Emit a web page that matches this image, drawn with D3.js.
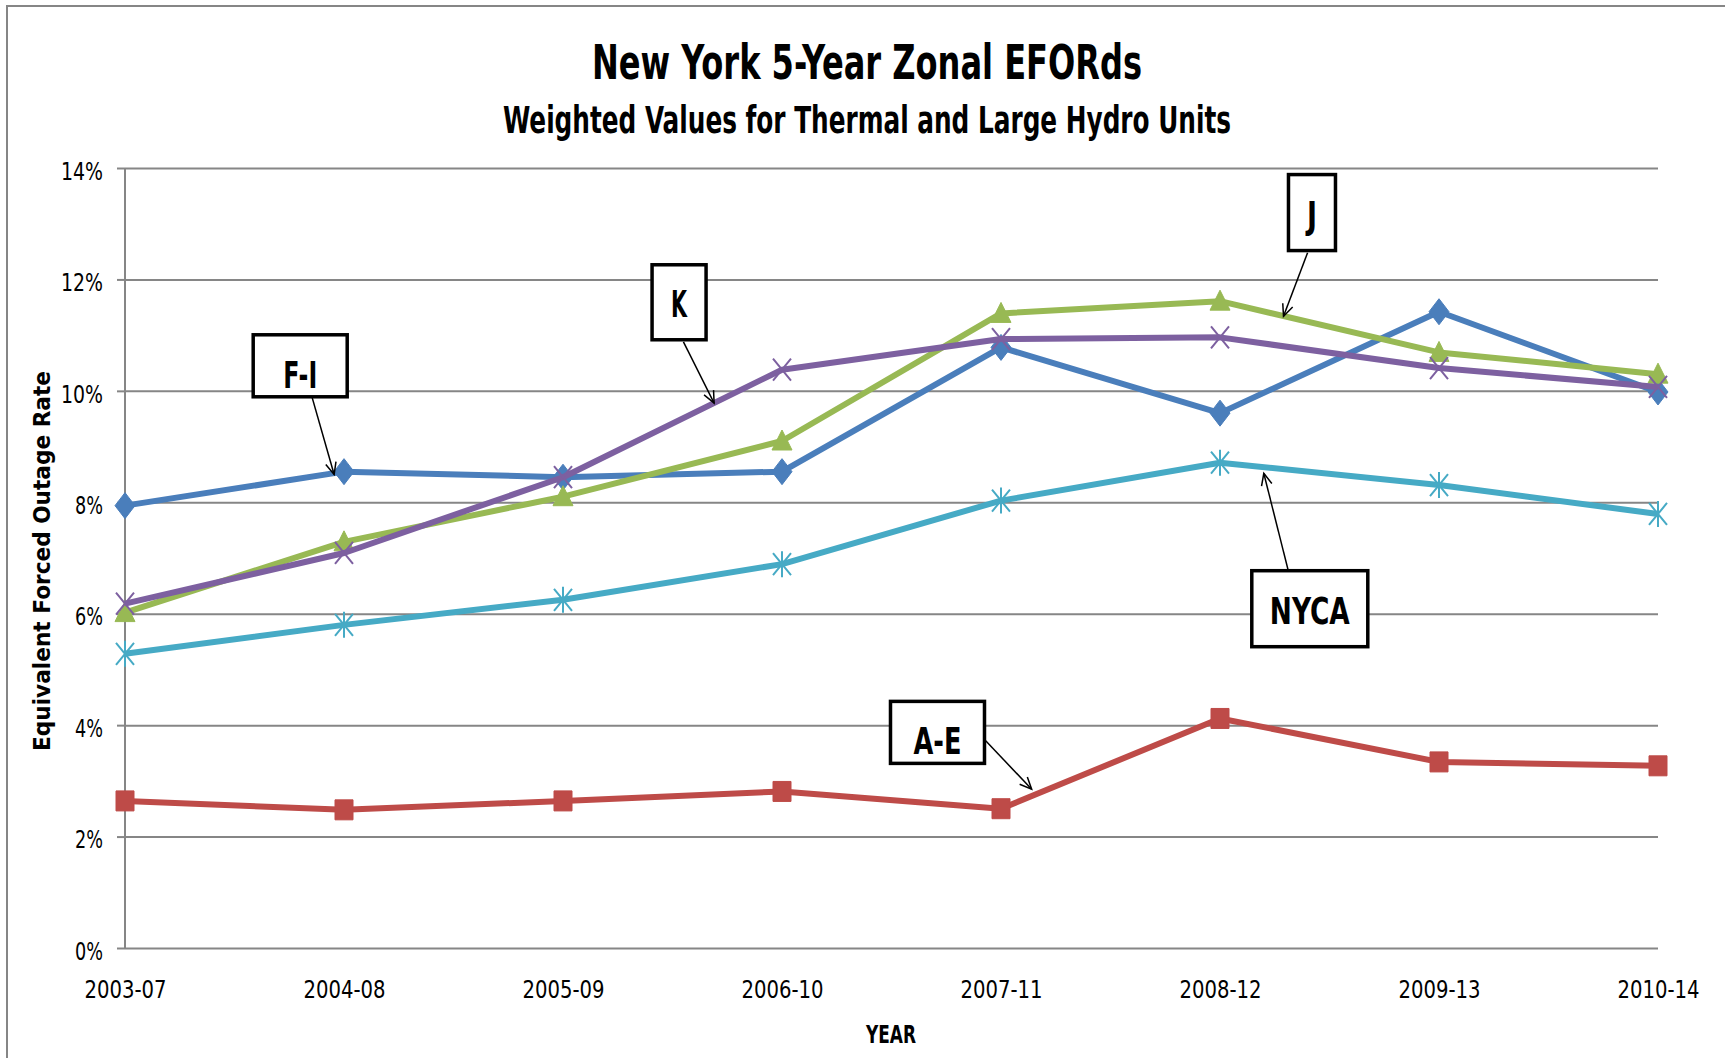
<!DOCTYPE html>
<html>
<head>
<meta charset="utf-8">
<script src="https://cdn.jsdelivr.net/npm/d3@7"></script>
<style>
    body { margin: 0; background: #fff; }
    svg { display: block; }
</style>
</head>
<body>
<div class="forSvg"></div>
<script>
// -DATA-
const categories = ["2003-07", "2004-08", "2005-09", "2006-10", "2007-11", "2008-12", "2009-13", "2010-14"];
const yTicks = [0, 2, 4, 6, 8, 10, 12, 14];

const valuesFI   = [7.94, 8.55, 8.45, 8.55, 10.78, 9.60, 11.42, 9.98];
const valuesAE   = [2.64, 2.48, 2.64, 2.81, 2.50, 4.12, 3.34, 3.27];
const valuesJ    = [6.02, 7.29, 8.10, 9.10, 11.39, 11.61, 10.69, 10.30];
const valuesK    = [6.18, 7.09, 8.45, 10.38, 10.93, 10.96, 10.41, 10.07];
const valuesNYCA = [5.28, 5.80, 6.25, 6.89, 8.03, 8.71, 8.31, 7.79];

// callout labels: box centre + arrow in data units (category index, percent)
const calloutLabels = ["F-I", "K", "J", "NYCA", "A-E"];
const calloutBox    = [[0.80, 10.45], [2.53, 11.59], [5.42, 13.20], [5.41, 6.09], [3.71, 3.87]];
const calloutArrow  = [[0.84, 10.08, 0.955, 8.50], [2.55, 10.88, 2.69, 9.78], [5.40, 12.48, 5.29, 11.34],
                       [5.31, 6.80, 5.20, 8.52], [3.93, 3.72, 4.14, 2.85]];

// -CREATE VARIABLES-
const svg_w = 1725;
const svg_h = 1058;
const plot = { left: 125, right: 1658, top: 168, bottom: 948 };
const gridColor = "#868686";
const condensed = "'Liberation Sans Narrow', 'DejaVu Sans Condensed', 'Liberation Sans', sans-serif";

const series = [
    { name: "A-E",  values: valuesAE,   color: "#be4b48", marker: "square" },
    { name: "F-I",  values: valuesFI,   color: "#4a7ebb", marker: "diamond" },
    { name: "J",    values: valuesJ,    color: "#98b954", marker: "triangle" },
    { name: "K",    values: valuesK,    color: "#7d60a0", marker: "cross" },
    { name: "NYCA", values: valuesNYCA, color: "#46aac5", marker: "star" }
];

const svg = d3.select(".forSvg")
    .append("svg")
    .attr("width", svg_w)
    .attr("height", svg_h);

// outer chart border
svg.append("rect")
    .attr("x", 7).attr("y", 6)
    .attr("width", svg_w + 20).attr("height", svg_h + 20)
    .attr("fill", "none")
    .attr("stroke", gridColor)
    .attr("stroke-width", 2);

// -SCALES-
const x = d3.scalePoint()
    .domain(categories)
    .range([plot.left, plot.right])
    .padding(0);

const xIdx = d3.scaleLinear()
    .domain([0, categories.length - 1])
    .range([plot.left, plot.right]);

const y = d3.scaleLinear()
    .domain([0, 14])
    .range([plot.bottom, plot.top]);

// -AXES-
const yAxis = svg.append("g")
    .attr("transform", "translate(" + plot.left + ",0)")
    .call(d3.axisLeft(y)
        .tickValues(yTicks)
        .tickFormat(d => d + "%")
        .tickSize(8)
        .tickPadding(14));

// gridlines
yAxis.selectAll(".tick line")
    .clone()
    .attr("x2", plot.right - plot.left);

yAxis.selectAll("line")
    .attr("stroke", gridColor)
    .attr("stroke-width", 2);
yAxis.select(".domain").remove();

yAxis.selectAll("text")
    .attr("fill", "#000")
    .attr("dy", "0.45em")
    .style("font-family", condensed)
    .style("font-size", "25px")
    .attr("textLength", d => 14 * (d + "%").length)
    .attr("lengthAdjust", "spacingAndGlyphs");

// vertical axis line
svg.append("line")
    .attr("x1", plot.left).attr("x2", plot.left)
    .attr("y1", plot.top).attr("y2", plot.bottom)
    .attr("stroke", gridColor)
    .attr("stroke-width", 2);

const xAxis = svg.append("g")
    .attr("transform", "translate(0," + plot.bottom + ")")
    .call(d3.axisBottom(x).tickSize(0).tickPadding(32));

xAxis.select(".domain").remove();
xAxis.selectAll("text")
    .attr("fill", "#000")
    .style("font-family", condensed)
    .style("font-size", "25px")
    .attr("textLength", 82)
    .attr("lengthAdjust", "spacingAndGlyphs");

// -LINES-
const line = d3.line()
    .x((d, i) => x(categories[i]))
    .y(d => y(d));

const markerPath = {
    diamond: "M0,-13L10,0L0,13L-10,0Z",
    square: "M-9,-10H9V10H-9Z",
    triangle: "M0,-11L10,9H-10Z",
    cross: "M-9,-11L9,11M-9,11L9,-11",
    star: "M-9,-11L9,11M-9,11L9,-11M0,-13V13"
};

series.forEach(s => {
    const g = svg.append("g").attr("class", "series");

    g.append("path")
        .datum(s.values)
        .attr("d", line)
        .attr("fill", "none")
        .attr("stroke", s.color)
        .attr("stroke-width", 6)
        .attr("stroke-linejoin", "round");

    const open = s.marker === "cross" || s.marker === "star";
    g.selectAll(".marker")
        .data(s.values)
        .enter()
        .append("path")
        .attr("class", "marker")
        .attr("transform", (d, i) => "translate(" + x(categories[i]) + "," + y(d) + ")")
        .attr("d", markerPath[s.marker])
        .attr("fill", open ? "none" : s.color)
        .attr("stroke", s.color)
        .attr("stroke-width", open ? 2 : 1);
});

// -CALLOUTS-
const boxSize = { "F-I": [94, 62], "K": [54, 75], "J": [47, 76], "NYCA": [116, 76], "A-E": [94, 62] };
const textWidth = { "F-I": 34, "K": 16, "J": 10, "NYCA": 80, "A-E": 48 };

calloutLabels.forEach((label, i) => {
    const [ax1, ay1, ax2, ay2] = calloutArrow[i];
    const x1 = xIdx(ax1), y1 = y(ay1), x2 = xIdx(ax2), y2 = y(ay2);
    const ang = Math.atan2(y2 - y1, x2 - x1);
    const head = 13, spread = 0.42;

    svg.append("line")
        .attr("x1", x1).attr("y1", y1)
        .attr("x2", x2).attr("y2", y2)
        .attr("stroke", "#000")
        .attr("stroke-width", 1.5);

    svg.append("path")
        .attr("d", "M" + (x2 - head * Math.cos(ang - spread)) + "," + (y2 - head * Math.sin(ang - spread)) +
                   "L" + x2 + "," + y2 +
                   "L" + (x2 - head * Math.cos(ang + spread)) + "," + (y2 - head * Math.sin(ang + spread)))
        .attr("fill", "none")
        .attr("stroke", "#000")
        .attr("stroke-width", 1.5);

    const [bw, bh] = boxSize[label];
    const cx = xIdx(calloutBox[i][0]), cy = y(calloutBox[i][1]);

    svg.append("rect")
        .attr("x", cx - bw / 2).attr("y", cy - bh / 2)
        .attr("width", bw).attr("height", bh)
        .attr("fill", "#fff")
        .attr("stroke", "#000")
        .attr("stroke-width", 3.5);

    svg.append("text")
        .attr("x", cx).attr("y", cy + (bh < 70 ? 22 : 15))
        .attr("text-anchor", "middle")
        .style("font-family", condensed)
        .style("font-weight", "bold")
        .style("font-size", "37px")
        .attr("textLength", textWidth[label])
        .attr("lengthAdjust", "spacingAndGlyphs")
        .text(label);
});

// -TITLES-
svg.append("text")
    .attr("x", 867).attr("y", 79)
    .attr("text-anchor", "middle")
    .style("font-family", condensed)
    .style("font-weight", "bold")
    .style("font-size", "48px")
    .attr("textLength", 550)
    .attr("lengthAdjust", "spacingAndGlyphs")
    .text("New York 5-Year Zonal EFORds");

svg.append("text")
    .attr("x", 867).attr("y", 133)
    .attr("text-anchor", "middle")
    .style("font-family", condensed)
    .style("font-weight", "bold")
    .style("font-size", "37px")
    .attr("textLength", 728)
    .attr("lengthAdjust", "spacingAndGlyphs")
    .text("Weighted Values for Thermal and Large Hydro Units");

svg.append("text")
    .attr("x", 891).attr("y", 1043)
    .attr("text-anchor", "middle")
    .style("font-family", condensed)
    .style("font-weight", "bold")
    .style("font-size", "25px")
    .attr("textLength", 50)
    .attr("lengthAdjust", "spacingAndGlyphs")
    .text("YEAR");

svg.append("text")
    .attr("transform", "translate(50,561) rotate(-90)")
    .attr("text-anchor", "middle")
    .style("font-family", "'DejaVu Sans', sans-serif")
    .style("font-weight", "bold")
    .style("font-size", "23px")
    .attr("textLength", 380)
    .attr("lengthAdjust", "spacingAndGlyphs")
    .text("Equivalent  Forced  Outage  Rate");
</script>
</body>
</html>
